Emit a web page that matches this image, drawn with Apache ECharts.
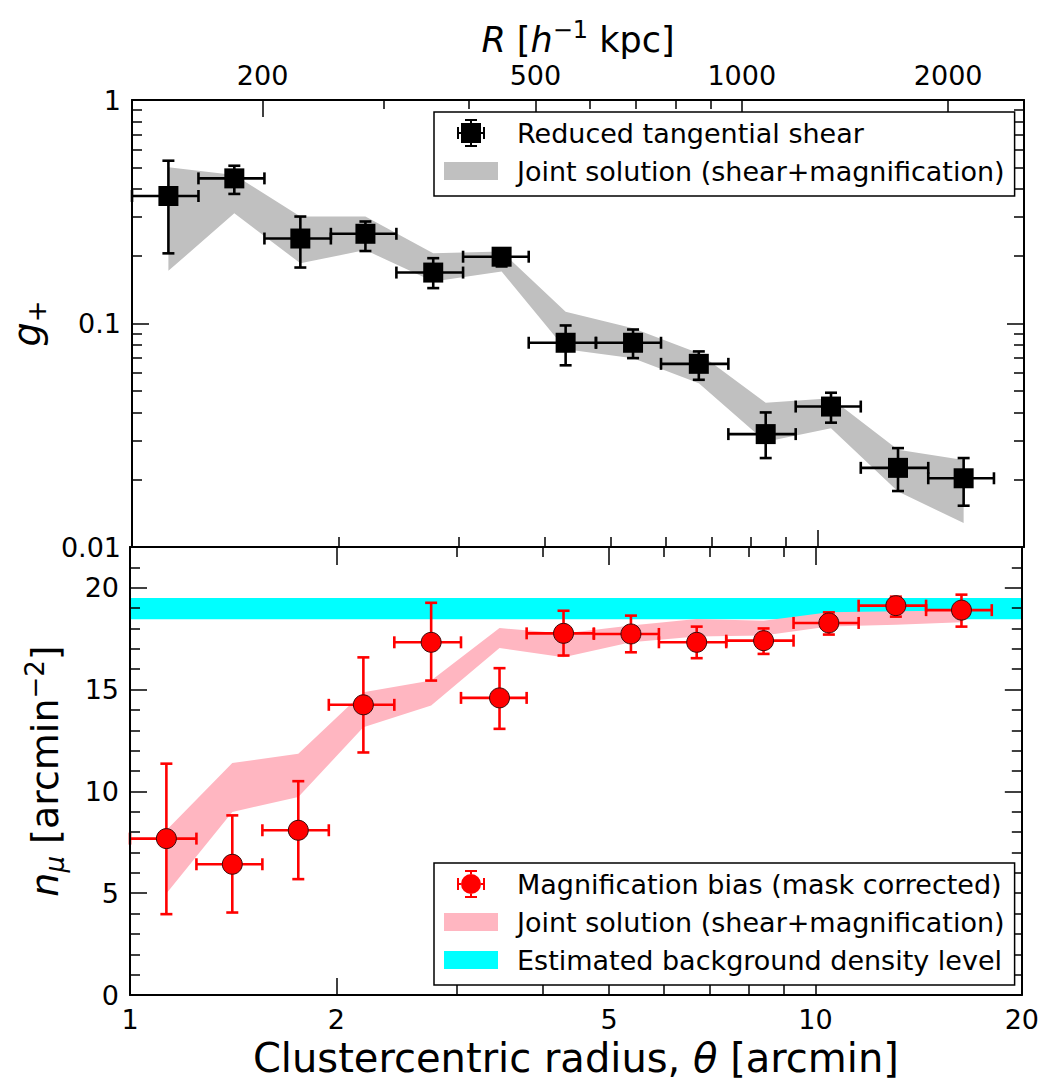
<!DOCTYPE html>
<html>
<head>
<meta charset="utf-8">
<script src="https://cdn.jsdelivr.net/npm/echarts@6/dist/echarts.min.js"></script>
<style>
  html, body { margin: 0; padding: 0; background: #fff; }
  #chart { width: 1042px; height: 1084px; }
</style>
</head>
<body>
<div id="chart"></div>
<script>
// Radial bins in arcmin: bin centres and bin edges
const thetaMid = [1.13, 1.41, 1.76, 2.19, 2.75, 3.46, 4.29, 5.38, 6.71, 8.40, 10.46, 13.10, 16.33];
const thetaLo  = [1.00, 1.25, 1.56, 1.95, 2.43, 3.04, 3.79, 4.75, 5.91, 7.41, 9.29, 11.56, 14.50];
const thetaHi  = [1.25, 1.56, 1.95, 2.43, 3.04, 3.79, 4.75, 5.91, 7.41, 9.29, 11.56, 14.50, 18.08];

// Reduced tangential shear g+ with its 1-sigma range
const shear   = [0.372, 0.446, 0.240, 0.252, 0.169, 0.199, 0.082, 0.082, 0.066, 0.032, 0.0425, 0.0226, 0.0203];
const shearLo = [0.206, 0.380, 0.178, 0.211, 0.144, 0.180, 0.065, 0.070, 0.056, 0.025, 0.036, 0.0178, 0.0153];
const shearHi = [0.535, 0.508, 0.301, 0.286, 0.196, 0.208, 0.098, 0.094, 0.075, 0.040, 0.049, 0.0277, 0.0250];
// Joint solution (shear+magnification), g+ band
const shearBandLo = [0.172, 0.311, 0.186, 0.213, 0.154, 0.171, 0.0767, 0.0699, 0.054, 0.0296, 0.034, 0.0177, 0.0128];
const shearBandHi = [0.500, 0.462, 0.301, 0.301, 0.206, 0.210, 0.113, 0.0952, 0.0736, 0.0442, 0.0463, 0.0272, 0.0245];

// Magnification bias: background counts n_mu in arcmin^-2
const nmu   = [7.68, 6.42, 8.09, 14.25, 17.32, 14.59, 17.76, 17.73, 17.32, 17.40, 18.27, 19.12, 18.90];
const nmuLo = [3.97, 4.05, 5.69, 11.91, 15.44, 13.07, 16.67, 16.83, 16.54, 16.75, 17.70, 18.58, 18.09];
const nmuHi = [11.36, 8.82, 10.50, 16.58, 19.26, 16.05, 18.87, 18.63, 18.09, 18.00, 18.79, 19.56, 19.66];
// Joint solution (shear+magnification), n_mu band
const nmuBandLo = [4.98, 8.99, 9.72, 13.15, 14.22, 17.04, 16.58, 17.32, 17.60, 17.65, 18.09, 18.18, 18.30];
const nmuBandHi = [8.09, 11.39, 11.85, 14.87, 15.44, 18.02, 17.75, 18.14, 18.46, 18.38, 18.80, 18.85, 18.88];

// Estimated background density level (arcmin^-2): lower and upper edge
const bgLevel = [18.45, 19.50];

// Physical scale used for the upper axis
const kpcPerArcmin = 129;

// Axis ranges and tick marks
const thetaRange = [1, 20];
const thetaLabels = [1, 2, 5, 10, 20];
const thetaMajor = [2, 5, 10];
const thetaMinor = [3, 4, 6, 7, 8, 9];
const thetaDecade = [10];
const thetaSubDecade = [2, 3, 4, 5, 6, 7, 8, 9];
const rMajor = [200, 500, 1000, 2000];
const rMinor = [300, 400, 600, 700, 800, 900];
const gRange = [0.01, 1];
const gMajor = [0.01, 0.1, 1];
const gMinor = [0.02, 0.03, 0.04, 0.05, 0.06, 0.07, 0.08, 0.09, 0.2, 0.3, 0.4, 0.5, 0.6, 0.7, 0.8, 0.9];
const nRange = [0, 22];
const nMajor = [0, 5, 10, 15, 20];
const nMinor = [1, 2, 3, 4, 6, 7, 8, 9, 11, 12, 13, 14, 16, 17, 18, 19, 21];

const FONT = "'DejaVu Sans', sans-serif";
const INK = '#000';
const NAME_SHEAR = 'Reduced tangential shear';
const NAME_JOINT = 'Joint solution (shear+magnification)';
const NAME_MAG = 'Magnification bias (mask corrected)';
const NAME_BG = 'Estimated background density level';

function makeAxis(o) {
  const ax = {
    gridIndex: o.grid,
    type: o.type,
    position: o.position,
    min: o.min,
    max: o.max,
    z: 5,
    splitLine: { show: false },
    axisPointer: { show: false },
    axisLine: { show: !!o.line, onZero: false, lineStyle: { color: INK, width: 2 } },
    axisTick: { show: true, inside: true, length: o.len, customValues: o.ticks,
                lineStyle: { color: INK, width: 1.5 } },
    axisLabel: o.labels
      ? { show: true, customValues: o.labels, margin: 11, color: INK, fontFamily: FONT, fontSize: 27,
          formatter: v => String(v) }
      : { show: false }
  };
  if (o.type === 'log') ax.logBase = 10;
  return Object.assign(ax, o.extra || {});
}

const rRange = [thetaRange[0] * kpcPerArcmin, thetaRange[1] * kpcPerArcmin];

const titleRich = {
  n:   { fontFamily: FONT, fontSize: 38, lineHeight: 46, color: INK },
  it:  { fontFamily: FONT, fontSize: 38, lineHeight: 46, color: INK, fontStyle: 'italic' },
  sub: { fontFamily: FONT, fontSize: 26, lineHeight: 26, color: INK, verticalAlign: 'bottom', fontStyle: 'italic' },
  sup: { fontFamily: FONT, fontSize: 26, lineHeight: 26, color: INK, verticalAlign: 'top' },
  xn:  { fontFamily: FONT, fontSize: 40, lineHeight: 46, color: INK },
  xit: { fontFamily: FONT, fontSize: 40, lineHeight: 46, color: INK, fontStyle: 'italic' },
  rn:  { fontFamily: FONT, fontSize: 35, lineHeight: 44, color: INK },
  rit: { fontFamily: FONT, fontSize: 35, lineHeight: 44, color: INK, fontStyle: 'italic' },
  rsup:{ fontFamily: FONT, fontSize: 24, lineHeight: 24, color: INK, verticalAlign: 'top' }
};

const xAxes = [
  // upper panel, bottom edge
  makeAxis({ grid: 0, type: 'log', position: 'bottom', min: thetaRange[0], max: thetaRange[1], line: true, ticks: thetaSubDecade, len: 10 }),
  makeAxis({ grid: 0, type: 'log', position: 'bottom', min: thetaRange[0], max: thetaRange[1], ticks: thetaDecade, len: 17 }),
  // upper panel, top edge: physical radius
  makeAxis({ grid: 0, type: 'log', position: 'top', min: rRange[0], max: rRange[1], line: true, ticks: rMajor, len: 17, labels: rMajor,
    extra: { name: '{rit|R}{rn| [}{rit|h}{rsup|−1}{rn| kpc]}', nameLocation: 'middle', nameGap: 38,
             nameTextStyle: { rich: titleRich } } }),
  makeAxis({ grid: 0, type: 'log', position: 'top', min: rRange[0], max: rRange[1], ticks: rMinor, len: 9 }),
  // lower panel, bottom edge
  makeAxis({ grid: 1, type: 'log', position: 'bottom', min: thetaRange[0], max: thetaRange[1], line: true, ticks: thetaMajor, len: 17, labels: thetaLabels,
    extra: { name: '{xn|Clustercentric radius, }{xit|θ}{xn| [arcmin]}', nameLocation: 'middle', nameGap: 40,
             nameTextStyle: { rich: titleRich } } }),
  makeAxis({ grid: 1, type: 'log', position: 'bottom', min: thetaRange[0], max: thetaRange[1], ticks: thetaMinor, len: 10 }),
  // lower panel, top edge
  makeAxis({ grid: 1, type: 'log', position: 'top', min: thetaRange[0], max: thetaRange[1], line: true, ticks: thetaMajor, len: 18 }),
  makeAxis({ grid: 1, type: 'log', position: 'top', min: thetaRange[0], max: thetaRange[1], ticks: thetaMinor, len: 10 })
];

const yAxes = [
  makeAxis({ grid: 0, type: 'log', position: 'left', min: gRange[0], max: gRange[1], line: true, ticks: gMajor, len: 17, labels: gMajor,
    extra: { name: '{it|g}{sub|+}', nameLocation: 'middle', nameRotate: 90, nameGap: 60,
             nameTextStyle: { rich: titleRich } } }),
  makeAxis({ grid: 0, type: 'log', position: 'left', min: gRange[0], max: gRange[1], ticks: gMinor, len: 10 }),
  makeAxis({ grid: 0, type: 'log', position: 'right', min: gRange[0], max: gRange[1], line: true, ticks: gMajor, len: 17 }),
  makeAxis({ grid: 0, type: 'log', position: 'right', min: gRange[0], max: gRange[1], ticks: gMinor, len: 10 }),
  makeAxis({ grid: 1, type: 'value', position: 'left', min: nRange[0], max: nRange[1], line: true, ticks: nMajor, len: 17, labels: nMajor,
    extra: { name: '{it|n}{sub|μ}{n| [arcmin}{sup|−2}{n|]}', nameLocation: 'middle', nameRotate: 90, nameGap: 62,
             nameTextStyle: { rich: titleRich } } }),
  makeAxis({ grid: 1, type: 'value', position: 'left', min: nRange[0], max: nRange[1], ticks: nMinor, len: 10 }),
  makeAxis({ grid: 1, type: 'value', position: 'right', min: nRange[0], max: nRange[1], line: true, ticks: nMajor, len: 17 }),
  makeAxis({ grid: 1, type: 'value', position: 'right', min: nRange[0], max: nRange[1], ticks: nMinor, len: 10 })
];

// Filled band between a lower and an upper curve, drawn once as one polygon
function bandRenderer(color) {
  return function (params, api) {
    if (params.dataIndexInside !== 0) return null;
    const n = params.dataInsideLength;
    const upper = [], lower = [];
    for (let j = 0; j < n; j++) {
      const x = api.value(0, j);
      lower.push(api.coord([x, api.value(1, j)]));
      upper.push(api.coord([x, api.value(2, j)]));
    }
    return {
      type: 'polygon',
      shape: { points: upper.concat(lower.reverse()) },
      style: { fill: color, stroke: null }
    };
  };
}

// Horizontal and vertical error bars with caps
function errorBarRenderer(color, width) {
  return function (params, api) {
    const x = api.value(0), y = api.value(1);
    const c = api.coord([x, y]);
    const xl = api.coord([api.value(2), y])[0];
    const xh = api.coord([api.value(3), y])[0];
    const yl = api.coord([x, api.value(4)])[1];
    const yh = api.coord([x, api.value(5)])[1];
    const cap = 6;
    const style = { stroke: color, lineWidth: width };
    const seg = (x1, y1, x2, y2) => ({ type: 'line', shape: { x1, y1, x2, y2 }, style });
    return {
      type: 'group',
      children: [
        seg(c[0], yl, c[0], yh),
        seg(c[0] - cap, yl, c[0] + cap, yl),
        seg(c[0] - cap, yh, c[0] + cap, yh),
        seg(xl, c[1], xh, c[1]),
        seg(xl, c[1] - cap, xl, c[1] + cap),
        seg(xh, c[1] - cap, xh, c[1] + cap)
      ]
    };
  };
}

const shearBars = thetaMid.map((t, i) => [t, shear[i], thetaLo[i], thetaHi[i], shearLo[i], shearHi[i]]);
const nmuBars = thetaMid.map((t, i) => [t, nmu[i], thetaLo[i], thetaHi[i], nmuLo[i], nmuHi[i]]);
const shearBand = thetaMid.map((t, i) => [t, shearBandLo[i], shearBandHi[i]]);
const nmuBand = thetaMid.map((t, i) => [t, nmuBandLo[i], nmuBandHi[i]]);
const bgBand = thetaRange.map(t => [t, bgLevel[0], bgLevel[1]]);

// Legend icons (68 x 28 boxes)
const ICON_PATCH = 'path://M0 0M68 28M0 5H54V23H0Z';
const BAR_BITS = 'M26 0H28V4H26Z M26 24H28V28H26Z M13 13H17V15H13Z M37 13H41V15H37Z ' +
                 'M21 0H33V2H21Z M21 26H33V28H21Z M13 8H15V20H13Z M39 8H41V20H39Z';
const ICON_SQUARE = 'path://M0 0M68 28M17 4H37V24H17Z ' + BAR_BITS;
const ICON_CIRCLE = 'path://M0 0M68 28M17 14A10 10 0 1 1 37 14A10 10 0 1 1 17 14Z ' + BAR_BITS;

const legendBase = {
  orient: 'vertical',
  left: 434,
  itemWidth: 68,
  itemHeight: 28,
  itemGap: 10,
  padding: [7, 10, 11, 10],
  backgroundColor: '#fff',
  borderColor: INK,
  borderWidth: 1.5,
  borderRadius: 0,
  selectedMode: false,
  z: 10,
  textStyle: { fontFamily: FONT, fontSize: 27, color: INK, lineHeight: 28 }
};

const option = {
  animation: false,
  backgroundColor: '#fff',
  textStyle: { fontFamily: FONT },
  grid: [
    { left: 130, top: 100, width: 894, height: 447, containLabel: false },
    { left: 130, top: 547, width: 894, height: 448, containLabel: false }
  ],
  xAxis: xAxes,
  yAxis: yAxes,
  legend: [
    Object.assign({}, legendBase, {
      top: 112,
      data: [
        { name: NAME_SHEAR, icon: ICON_SQUARE, itemStyle: { color: INK, borderWidth: 0 } },
        { name: NAME_JOINT, icon: ICON_PATCH, itemStyle: { color: '#c0c0c0', borderWidth: 0 } }
      ]
    }),
    Object.assign({}, legendBase, {
      top: 863,
      data: [
        { name: NAME_MAG, icon: ICON_CIRCLE, itemStyle: { color: '#ff0000', borderWidth: 0 } },
        { name: NAME_JOINT, icon: ICON_PATCH, itemStyle: { color: '#ffb6c1', borderWidth: 0 } },
        { name: NAME_BG, icon: ICON_PATCH, itemStyle: { color: '#00ffff', borderWidth: 0 } }
      ]
    })
  ],
  series: [
    {
      name: NAME_JOINT, type: 'custom', xAxisIndex: 0, yAxisIndex: 0, z: 1, silent: true,
      renderItem: bandRenderer('#c0c0c0'), encode: { x: 0, y: [1, 2] }, data: shearBand,
      itemStyle: { color: '#c0c0c0' }
    },
    {
      name: NAME_SHEAR, type: 'custom', xAxisIndex: 0, yAxisIndex: 0, z: 3, silent: true,
      renderItem: errorBarRenderer(INK, 2.6), encode: { x: [0, 2, 3], y: [1, 4, 5] }, data: shearBars,
      itemStyle: { color: INK }
    },
    {
      name: NAME_SHEAR, type: 'scatter', xAxisIndex: 0, yAxisIndex: 0, z: 4, silent: true,
      symbol: 'rect', symbolSize: 20, itemStyle: { color: INK, opacity: 1 },
      data: thetaMid.map((t, i) => [t, shear[i]])
    },
    {
      name: NAME_BG, type: 'custom', xAxisIndex: 4, yAxisIndex: 4, z: 1, silent: true,
      renderItem: bandRenderer('#00ffff'), encode: { x: 0, y: [1, 2] }, data: bgBand,
      itemStyle: { color: '#00ffff' }
    },
    {
      name: NAME_JOINT, type: 'custom', xAxisIndex: 4, yAxisIndex: 4, z: 2, silent: true,
      renderItem: bandRenderer('#ffb6c1'), encode: { x: 0, y: [1, 2] }, data: nmuBand,
      itemStyle: { color: '#ffb6c1' }
    },
    {
      name: NAME_MAG, type: 'custom', xAxisIndex: 4, yAxisIndex: 4, z: 3, silent: true,
      renderItem: errorBarRenderer('#ff0000', 2.6), encode: { x: [0, 2, 3], y: [1, 4, 5] }, data: nmuBars,
      itemStyle: { color: '#ff0000' }
    },
    {
      name: NAME_MAG, type: 'scatter', xAxisIndex: 4, yAxisIndex: 4, z: 4, silent: true,
      symbol: 'circle', symbolSize: 20,
      itemStyle: { color: '#ff0000', borderColor: '#3a0a0a', borderWidth: 1, opacity: 1 },
      data: thetaMid.map((t, i) => [t, nmu[i]])
    }
  ]
};

const chart = echarts.init(document.getElementById('chart'), null, { renderer: 'svg' });
chart.setOption(option);
</script>
</body>
</html>
